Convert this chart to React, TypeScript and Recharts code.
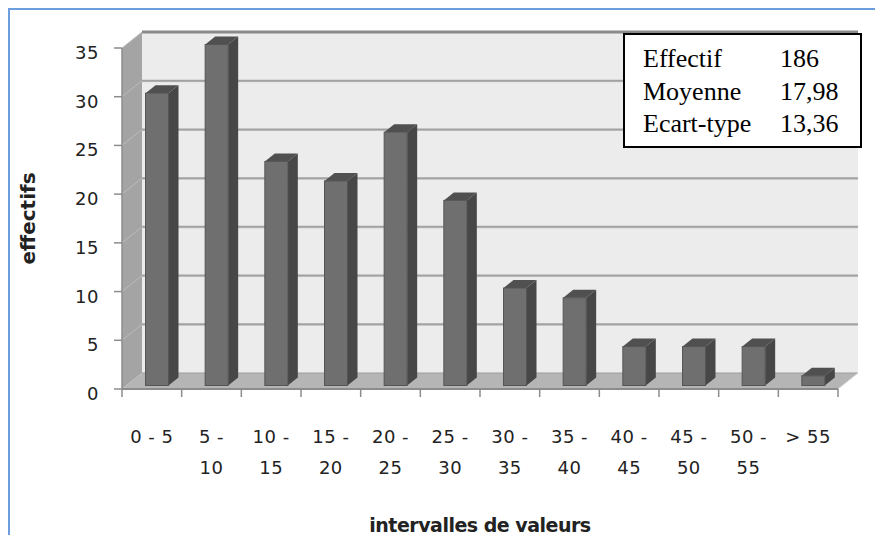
import React from 'react';
import { BarChart, Bar, XAxis, YAxis, ReferenceArea } from 'recharts';

const categories = ['0 - 5', '5 - 10', '10 - 15', '15 - 20', '20 - 25', '25 - 30', '30 - 35', '35 - 40', '40 - 45', '45 - 50', '50 - 55', '> 55'];
// how Excel wrapped the category labels
const tickLabelLines = [['0 - 5'], ['5 -', '10'], ['10 -', '15'], ['15 -', '20'], ['20 -', '25'], ['25 -', '30'], ['30 -', '35'], ['35 -', '40'], ['40 -', '45'], ['45 -', '50'], ['50 -', '55'], ['> 55']];
const effectifs = [30, 35, 23, 21, 26, 19, 10, 9, 4, 4, 4, 1];
const yTicks = [0, 5, 10, 15, 20, 25, 30, 35];
const statLabels = ['Effectif', 'Moyenne', 'Ecart-type'];
const statValues = ['186', '17,98', '13,36'];

const data = categories.map((name, i) => ({ name, value: effectifs[i] }));

const W = 867;
const H = 527;
const WALL_DX = 20;
const WALL_DY = -16;
const BAR_DX = 5.5;
const BAR_DY = -3.5;
const BAR_SIDE = 10;
const BAR_TOP = 8;
const AXIS_GREY = '#8c8c8c';
const TEXT = '#222';
const FONT = '"DejaVu Sans", Verdana, sans-serif';

// back wall, side wall and floor of the 3D plot, from the plot rectangle
const Walls = (props: any) => {
  const { x, y, width: w, height: h } = props;
  const yMax = yTicks[yTicks.length - 1];
  const bx = x + WALL_DX;
  const by = y + WALL_DY;
  return (
    <g>
      <polygon points={`${x},${y} ${bx},${by} ${bx},${by + h} ${x},${y + h}`} fill="#a4a4a4" />
      <rect x={bx} y={by} width={w} height={h} fill="#ececec" />
      <polygon
        points={`${x},${y + h} ${x + w},${y + h} ${bx + w},${by + h} ${bx},${by + h}`}
        fill="#b5b5b5"
      />
      {yTicks.filter((v) => v > 0).map((v) => {
        const gy = y + h * (1 - v / yMax);
        const top = v === yMax;
        return (
          <g key={v}>
            <line x1={x} y1={gy} x2={bx} y2={gy + WALL_DY} stroke="#bcbcbc" strokeWidth={1} />
            <line
              x1={bx}
              y1={gy + WALL_DY + (top ? 0 : 1)}
              x2={bx + w}
              y2={gy + WALL_DY + (top ? 0 : 1)}
              stroke="#cfcfcf"
              strokeWidth={1}
            />
            <line x1={bx} y1={gy + WALL_DY} x2={bx + w} y2={gy + WALL_DY} stroke={top ? '#8a8a8a' : '#a2a2a2'} strokeWidth={top ? 3 : 2} />
          </g>
        );
      })}
      <line x1={bx} y1={by + h} x2={bx + w} y2={by + h} stroke="#9e9e9e" strokeWidth={1} />
      <line x1={x + w} y1={y + h} x2={bx + w} y2={by + h} stroke="#d8d8d8" strokeWidth={1} />
      <line x1={x} y1={y} x2={x} y2={y + h} stroke={AXIS_GREY} strokeWidth={1.5} />
    </g>
  );
};

const Bar3D = (props: any) => {
  const { x, y, width: w, height: h } = props;
  if (!h) return null;
  const fx = x + BAR_DX;
  const fy = y + BAR_DY;
  return (
    <g>
      <polygon
        points={`${fx},${fy} ${fx + w},${fy} ${fx + w + BAR_SIDE},${fy - BAR_TOP} ${fx + BAR_SIDE},${fy - BAR_TOP}`}
        fill="#505050"
      />
      <polygon
        points={`${fx + w},${fy} ${fx + w + BAR_SIDE},${fy - BAR_TOP} ${fx + w + BAR_SIDE},${fy + h - BAR_TOP} ${fx + w},${fy + h}`}
        fill="#474747"
      />
      <rect x={fx} y={fy} width={w} height={h} fill="#6f6f6f" stroke="#555" strokeWidth={1} />
    </g>
  );
};

const YTick = (props: any) => {
  const { x, y, payload } = props;
  return (
    <text x={x} y={y + 11} textAnchor="end" fontSize={18} letterSpacing={0.5} fill={TEXT} fontFamily={FONT}>
      {payload.value}
    </text>
  );
};

const XTick = (props: any) => {
  const { x, y, payload, index } = props;
  const half = payload.offset || 29.8;
  const lines = tickLabelLines[index] || [String(payload.value)];
  return (
    <g>
      <line x1={x - half} y1={y} x2={x - half} y2={y + 8} stroke={AXIS_GREY} strokeWidth={1.5} />
      {index === categories.length - 1 && (
        <line x1={x + half} y1={y} x2={x + half} y2={y + 8} stroke={AXIS_GREY} strokeWidth={1.5} />
      )}
      {lines.map((t, i) => (
        <text key={i} x={x} y={y + 54 + i * 31} textAnchor="middle" fontSize={18} letterSpacing={0.5} fill={TEXT} fontFamily={FONT}>
          {t}
        </text>
      ))}
    </g>
  );
};

const YTitle = (props: any) => {
  const vb = props.viewBox;
  const cx = vb.x + 6;
  const cy = vb.y + vb.height / 2;
  return (
    <text
      x={cx}
      y={cy}
      transform={`rotate(-90, ${cx}, ${cy})`}
      textAnchor="middle"
      dominantBaseline="central"
      fontSize={20}
      fontWeight="bold"
      fill={TEXT}
      fontFamily={FONT}
    >
      effectifs
    </text>
  );
};

const XTitle = (props: any) => {
  const vb = props.viewBox;
  return (
    <text
      x={vb.x + vb.width / 2}
      y={vb.y + 143}
      textAnchor="middle"
      fontSize={19}
      fontWeight="bold"
      letterSpacing={-0.5}
      fill={TEXT}
      fontFamily={FONT}
    >
      intervalles de valeurs
    </text>
  );
};

const StatsBox = () => (
  <svg width={239} height={115} style={{ position: 'absolute', left: 615, top: 25 }}>
    <rect x={1} y={1} width={237} height={113} fill="#fff" stroke="#000" strokeWidth={2} />
    {statLabels.map((label, i) => (
      <g key={label} fontFamily='"Liberation Serif", "Times New Roman", serif' fontSize={26} fill="#000">
        <text x={20} y={34 + i * 32.5}>{label}</text>
        <text x={157} y={34 + i * 32.5}>{statValues[i]}</text>
      </g>
    ))}
  </svg>
);

export default function App() {
  // absolutely placed so that the page never grows scrollbars
  return (
    <div style={{ position: 'absolute', left: 8, top: 8, width: W, height: H, overflow: 'hidden', background: '#fff' }}>
      <BarChart width={W} height={H} data={data} margin={{ top: 40, right: 37, left: 14, bottom: 46 }}>
        <XAxis
          dataKey="name"
          height={100}
          interval={0}
          tickLine={false}
          tickSize={0}
          tickMargin={0}
          axisLine={{ stroke: AXIS_GREY, strokeWidth: 2 }}
          tick={<XTick />}
          label={(p: any) => <XTitle {...p} />}
        />
        <YAxis
          width={100}
          domain={[0, 35]}
          ticks={yTicks}
          interval={0}
          tickSize={8}
          tickMargin={15}
          axisLine={false}
          tickLine={{ stroke: AXIS_GREY, strokeWidth: 1.5 }}
          tick={<YTick />}
          label={(p: any) => <YTitle {...p} />}
        />
        <ReferenceArea y1={0} y2={35} shape={<Walls />} isAnimationActive={false} />
        <Bar dataKey="value" barSize={23} shape={<Bar3D />} isAnimationActive={false} />
      </BarChart>
      <StatsBox />
      <div
        style={{
          position: 'absolute',
          left: 0,
          top: 0,
          width: W,
          height: H,
          boxSizing: 'border-box',
          borderTop: '2px solid #6c9ddc',
          borderLeft: '2px solid #6c9ddc',
          pointerEvents: 'none',
        }}
      />
    </div>
  );
}
